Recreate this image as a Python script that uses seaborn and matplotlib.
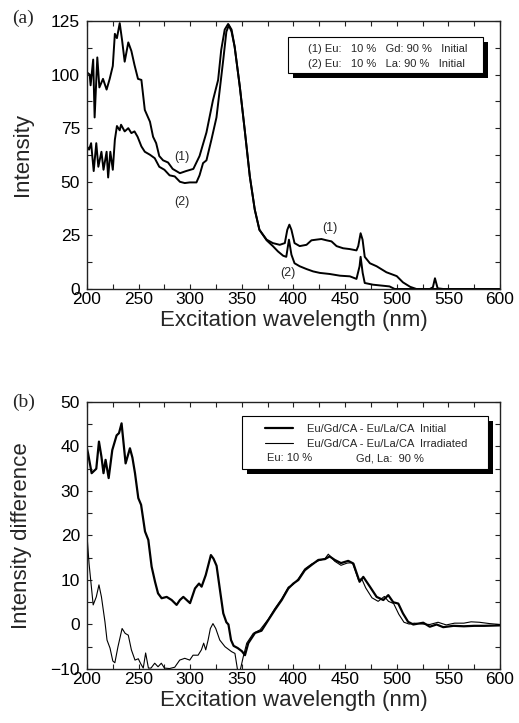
import numpy as np
import pandas as pd
import matplotlib
matplotlib.use("Agg")
import matplotlib.pyplot as plt
from matplotlib.ticker import MultipleLocator
from matplotlib.patches import Rectangle
from matplotlib.lines import Line2D
from matplotlib.transforms import offset_copy
import seaborn as sns

# ---- (a) excitation spectra, initial samples ----
wl_a1 = [200, 202.6, 203.5, 206, 207.4, 210, 212, 215.5, 219, 222, 225, 227, 229, 231.7,
         234, 236.5, 240, 243, 246, 249.4, 252.7, 256, 261, 264, 267, 270, 273.7, 278.5,
         283, 290, 296, 303, 309, 315.7, 322, 327, 330, 333.4, 336.7, 340, 343, 348, 352.8,
         357.7, 362.5, 367, 374, 380, 386.7, 391.6, 394, 396, 398, 401, 406, 412.6, 417.4,
         422, 427, 432, 436.8, 441.7, 448, 454.6, 461, 462.7, 465, 466.9, 469, 474, 480.5,
         490, 500, 506, 513, 519, 532, 535, 537, 539.6, 545, 600]
int_a1 = [101, 100, 95, 107, 80, 108, 94, 98, 93, 98, 104, 119, 117, 124,
          116, 106, 115, 111, 104.5, 98, 97.5, 83.5, 78, 71, 68, 62, 60, 59,
          56, 54, 55, 56, 62, 73, 88, 97.5, 111.5, 121, 123.6, 121, 113, 94.4, 74,
          52.5, 37, 27.6, 23, 21.4, 20.6, 21.4, 27.6, 30, 27.6, 21.4, 20, 20.6, 22.7,
          23, 23.3, 22.7, 22.2, 20, 19, 18.6, 18, 20, 26, 23, 15, 12, 10.6,
          7.8, 6, 3.1, 1, 0, 0, 0.8, 5, 0.3, 0, 0]

wl_a2 = [200, 202, 204, 206.5, 209, 211, 214, 216, 219, 220.5, 222.6, 225, 227, 229, 231.7,
         233, 236.5, 240, 243, 246, 249, 252.7, 256, 261, 265.6, 270, 275, 280, 285, 290,
         294.7, 299.5, 306, 309, 312.4, 315.7, 320.5, 325.4, 328.6, 332, 335, 337.4, 340,
         343, 348, 352.8, 357.7, 362.5, 367, 374, 380, 385, 390, 393, 395.6, 398, 401, 406,
         412.6, 419, 425.5, 435, 445, 454.6, 461, 464, 465, 467, 469, 477, 487, 493, 498, 600]
int_a2 = [66.5, 65, 68, 55, 68, 57, 64, 55.6, 64, 52, 64, 55.6, 69.6, 76, 74,
          76.6, 73.5, 75, 72.7, 73.5, 71, 66.5, 64, 62.6, 61, 57, 55.6, 53, 52.5, 50,
          49.4, 49.7, 49.7, 53, 58.7, 60, 69.6, 80, 93, 107, 120, 123, 120,
          113, 94.4, 74, 52.5, 37, 27.6, 22.7, 20, 17.5, 15.5, 15, 23, 16, 12, 10.6,
          9.3, 8.2, 7.5, 7, 6.2, 5.9, 4.7, 10.6, 15, 7.5, 2.8, 2, 1.5, 1.2, 0, 0]

legend_a = ["(1) Eu:   10 %   Gd: 90 %   Initial",
            "(2) Eu:   10 %   La: 90 %   Initial"]

# ---- (b) difference spectra Eu/Gd/CA - Eu/La/CA ----
wl_b1 = [200, 201, 204.5, 209, 211.6, 214, 216, 218, 221, 224.5, 228.7, 231, 233.5, 237.4,
         241.6, 244, 246.5, 249.7, 252.4, 256.2, 259.4, 262.6, 265.9, 268.8, 272.3, 277.2,
         282, 286.8, 290, 293.3, 299.8, 304.6, 308.5, 311, 315, 320, 322.5, 325.5, 329,
         332, 335, 337, 339.5, 342, 346, 350, 353, 356.2, 362.7, 369, 375.6, 382, 388.6,
         395, 399.8, 404.7, 411, 417.6, 424, 430.5, 435, 440, 446, 453, 458, 464, 467.6,
         474, 480.5, 487, 491.8, 496.6, 501.5, 506, 511, 516, 525.7, 532, 538.6, 545, 555,
         565, 575, 585, 600]
val_b1 = [39.5, 38.5, 34, 35, 41.1, 37.7, 34, 37, 32.9, 39.2, 42.5, 43, 45.2, 36.2,
          39.6, 37.5, 34, 28.4, 26.9, 20.9, 19, 13, 9.6, 7, 5.9, 6.2,
          5.5, 4.4, 5.5, 6.2, 4.8, 8.1, 9.2, 8.5, 11.1, 15.6, 14.8, 13.2, 7.4,
          2.5, 0.5, 0, -3.5, -4.8, -5.3, -6, -6.9, -4.2, -1.9, -1.4, 1, 3.3, 5.5,
          8.1, 9.2, 10, 12.2, 13.4, 14.5, 14.7, 15.3, 14.5, 13.8, 14.3, 13.7, 9.6, 10.7,
          8.5, 6.2, 5.5, 6.6, 5, 4.7, 2.5, 0.6, 0, 0.4, -0.5, 0, -0.6, -0.3,
          -0.4, -0.3, -0.3, -0.2]

wl_b2 = [200, 202, 206, 209, 211.6, 214, 217.4, 219.4, 222.3, 225, 227, 230, 234, 237,
         240, 243, 246.5, 249.7, 252, 254.5, 256.8, 259.5, 262, 265.6, 268.8, 272, 275,
         280, 285, 289.8, 294.7, 299.5, 302.7, 307.6, 310.8, 313, 315, 317.3, 319.5, 322,
         324.7, 328.6, 333.7, 340, 343.3, 346, 348.2, 351.4, 354.7, 361, 367.6, 375.6,
         382, 388.6, 395, 399.8, 404.7, 411, 417.6, 424, 430.5, 433.7, 440, 446, 452,
         457, 463, 466, 470, 476, 482, 488, 492, 497, 502, 507, 512, 517, 525, 532, 540,
         548, 556, 565, 572, 580, 590, 600]
val_b2 = [20.1, 13.7, 4.4, 6.2, 8.9, 6.2, 0.6, -3.5, -5.3, -8.2, -8.6, -5, -0.9, -2,
          -2.4, -5.7, -8, -7.7, -8.8, -9.8, -6.4, -9.8, -9.8, -8.7, -9.5, -8.7, -9.8,
          -9.9, -9.6, -8, -7.6, -8, -6.9, -6.9, -5.7, -4.2, -5.7, -3.5, -0.9, 0.2,
          -0.9, -3.5, -5, -6.1, -6.5, -10.5, -10.5, -7.2, -4.2, -2, -1.2, 1.2,
          3.6, 5.8, 8.4, 9.0, 10.3, 12.5, 13.6, 14.3, 14.8, 15.8, 14.2, 13.3, 13.8,
          13.9, 10.0, 10.3, 8.2, 6.0, 5.2, 6.3, 5.2, 4.7, 2.3, 0.5, 0.1, 0.3, 0.1, 0, 0.5,
          -0.1, 0.3, 0.3, 0.6, 0.5, 0.2, 0]

legend_b = ["Eu/Gd/CA - Eu/La/CA  Initial",
            "Eu/Gd/CA - Eu/La/CA  Irradiated"]
note_b = ["Eu: 10 %", "Gd, La:  90 %"]

sns.set_style("ticks")
plt.rcParams["font.family"] = ["Liberation Sans", "DejaVu Sans"]
plt.rcParams["axes.edgecolor"] = "#222222"
plt.rcParams["axes.linewidth"] = 1.0

fig = plt.figure(figsize=(5.19, 7.23), dpi=100)
ax_a = fig.add_axes([0.1676, 0.6003, 0.7958, 0.3707])
ax_b = fig.add_axes([0.1676, 0.0747, 0.7958, 0.3693])

df_a = pd.concat([
    pd.DataFrame({"wl": wl_a1, "I": int_a1, "s": "(1)"}),
    pd.DataFrame({"wl": wl_a2, "I": int_a2, "s": "(2)"}),
])
for name in ["(1)", "(2)"]:
    d = df_a[df_a.s == name]
    sns.lineplot(data=d, x="wl", y="I", ax=ax_a, color="black", lw=1.4,
                 estimator=None, sort=True)

df_b1 = pd.DataFrame({"wl": wl_b1, "d": val_b1})
df_b2 = pd.DataFrame({"wl": wl_b2, "d": val_b2})
sns.lineplot(data=df_b1, x="wl", y="d", ax=ax_b, color="black", lw=1.6, estimator=None)
sns.lineplot(data=df_b2, x="wl", y="d", ax=ax_b, color="black", lw=0.8, estimator=None)

def style_axes(ax, ymin, ymax, ymaj, ymin_step, ylabel):
    ax.set_xlim(200, 600)
    ax.set_ylim(ymin, ymax)
    ax.xaxis.set_major_locator(MultipleLocator(50))
    ax.xaxis.set_minor_locator(MultipleLocator(25))
    ax.yaxis.set_major_locator(MultipleLocator(ymaj))
    ax.yaxis.set_minor_locator(MultipleLocator(ymin_step))
    ax.tick_params(which="both", direction="in", top=True, right=True,
                   length=3.6, width=0.8, colors="#222222", labelcolor="black")
    ax.tick_params(axis="x", which="major", labelsize=12.5, pad=2)
    ax.tick_params(axis="y", which="major", labelsize=12.5, pad=5)
    ax.set_xlabel("Excitation wavelength (nm)", fontsize=16, labelpad=2)
    ax.set_ylabel(ylabel, fontsize=16, labelpad=13)
    for sp in ax.spines.values():
        sp.set_visible(True)

style_axes(ax_a, 0, 125, 25, 12.5, "Intensity")
style_axes(ax_b, -10, 50, 10, 5, "Intensity difference")

# curve labels
lab_kw = dict(fontsize=9, ha="center", va="center")
ax_a.text(292, 61.5, "(1)", **lab_kw)
ax_a.text(292, 40.5, "(2)", **lab_kw)
ax_a.text(435, 28.5, "(1)", **lab_kw)
ax_a.text(395, 7.5, "(2)", **lab_kw)

# panel letters
fig.text(0.045, 0.975, "(a)", family="Liberation Serif", fontsize=14, ha="center", va="center")
fig.text(0.045, 0.443, "(b)", family="Liberation Serif", fontsize=14, ha="center", va="center")


def boxed(ax, x0, y0, x1, y1):
    """White framed box with a solid drop shadow, in axes coordinates."""
    shadow = Rectangle((x0, y0), x1 - x0, y1 - y0, facecolor="black", edgecolor="none",
                       transform=offset_copy(ax.transAxes, fig=fig, x=5, y=-5, units="dots"),
                       zorder=4.5, clip_on=False)
    frame = Rectangle((x0, y0), x1 - x0, y1 - y0, facecolor="white", edgecolor="black",
                      lw=0.8, transform=ax.transAxes, zorder=4.6, clip_on=False)
    ax.add_patch(shadow)
    ax.add_patch(frame)


leg_kw = dict(frameon=False, borderaxespad=0, borderpad=0, fontsize=8,
              loc="upper left", labelspacing=0.45)

# legend (a): text only
boxed(ax_a, 0.487, 0.806, 0.959, 0.940)
blank = Line2D([], [], color="none")
leg_a = ax_a.legend([blank, blank], legend_a, bbox_to_anchor=(0.535, 0.914),
                    handlelength=0, handletextpad=0, **leg_kw)
leg_a.set_zorder(6)

# legend (b): two line entries, then the composition row
boxed(ax_b, 0.375, 0.749, 0.971, 0.948)
lb = ax_b.get_lines()[:2]
leg_b = ax_b.legend([lb[0], lb[1]], legend_b, bbox_to_anchor=(0.431, 0.917),
                    handlelength=2.5, handletextpad=1.25, **leg_kw)
leg_b.set_zorder(6)
leg_b.get_lines()[0].set_linewidth(1.6)
leg_b.get_lines()[1].set_linewidth(0.8)

ax_b.text(0.436, 0.790, note_b[0], transform=ax_b.transAxes, fontsize=8,
          va="center", ha="left", zorder=7)
ax_b.text(0.651, 0.790, note_b[1], transform=ax_b.transAxes, fontsize=8,
          va="center", ha="left", zorder=7)

fig.savefig("out.png", dpi=100)
